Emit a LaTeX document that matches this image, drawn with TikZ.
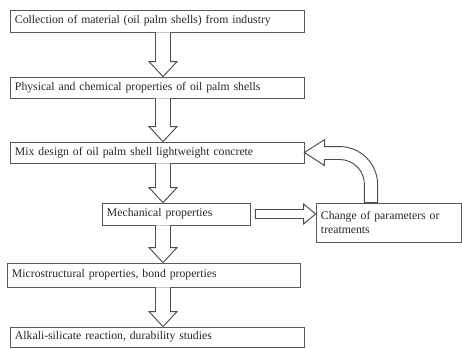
\documentclass[tikz,border=0pt]{standalone}
\usepackage{fontspec}
\setmainfont{Liberation Serif}
\usetikzlibrary{calc}

% hollow block arrow pointing down, from the bottom of #1 to the top of #2
\newcommand\downblock[2]{%
  \draw[blockarrow] ($(ax |- #1.south)+(-7.5,0)$) -- ($(ax |- #2.north)+(-7.5,-15)$)
    -- ++(-6.5,0) -- (ax |- #2.north) -- ++(14,-15) -- ++(-6.5,0)
    -- ($(ax |- #1.south)+(7.5,0)$);}

\begin{document}
\begin{tikzpicture}[x=0.03cm,y=-0.03cm,
    stage/.style={draw=black!65,line width=0.7pt,inner xsep=0.15cm,inner ysep=0pt,
      text width=#1,align=left,font=\fontsize{10}{11.5}\selectfont,text=black!85},
    blockarrow/.style={draw=black!70,line width=0.8pt,fill=white}]
    \useasboundingbox (0,0) rectangle (462,349);
    \coordinate (ax) at (163,0);

    \node[stage=8.52cm,minimum height=0.66cm] (collect) at (157,21) {Collection of material (oil palm shells) from industry};
    \node[stage=8.52cm,minimum height=0.63cm] (phys) at (157,87.5) {Physical and chemical properties of oil palm shells};
    \node[stage=8.52cm,minimum height=0.63cm] (mix) at (157,152.5) {Mix design of oil palm shell lightweight concrete};
    \node[stage=4.14cm,minimum height=0.66cm] (mech) at (176,214) {Mechanical properties};
    \node[stage=4.05cm,minimum height=1.17cm] (change) at (388.5,222.5) {Change of parameters or\\treatments};
    \node[stage=8.49cm,minimum height=0.72cm] (micro) at (153.5,275) {Microstructural properties, bond properties};
    \node[stage=8.52cm,minimum height=0.6cm] (alkali) at (157,337) {Alkali-silicate reaction, durability studies};

    \downblock{collect}{phys}
    \downblock{phys}{mix}
    \downblock{mix}{mech}
    \downblock{mech}{micro}
    \downblock{micro}{alkali}

    % side arrow to the change box
    \draw[blockarrow] ($(mech.east)+(5,-4.5)$) -- ($(change.west |- mech.east)+(-12,-4.5)$)
      -- ++(0,-5.5) -- (change.west |- mech.east) -- ++(-12,10) -- ++(0,-5.5)
      -- ($(mech.east)+(5,4.5)$) -- cycle;

    % feedback arrow back to the mix design
    \draw[blockarrow] ($(change.north west)+(62,0)$) -- ++(0,-18)
      .. controls +(0,-21) and +(21,0) .. ++(-38,-38) -- ++(-15,0) -- ++(0,-7)
      -- (mix.east) -- ++(20,13) -- ++(0,-6) -- ++(15,0)
      .. controls +(14,0) and +(0,-14) .. ++(25,25) -- ++(0,18) -- cycle;
\end{tikzpicture}
\end{document}
